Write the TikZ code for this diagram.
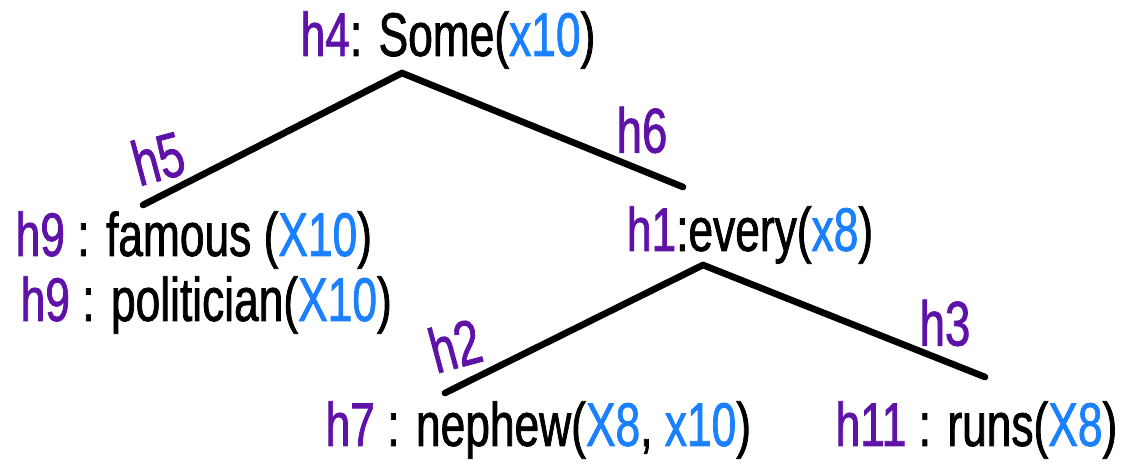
\documentclass[tikz,border=0pt]{standalone}
\usepackage{fontspec}
\setmainfont[FakeStretch=0.72,FakeBold=1.2]{Liberation Sans}
\definecolor{hpurple}{HTML}{5E12A8}
\definecolor{xblue}{HTML}{1A80FF}
\newcommand{\hv}[1]{\textcolor{hpurple}{#1}}
\newcommand{\xv}[1]{\textcolor{xblue}{#1}}
\tikzset{
  lbl/.style={inner sep=0pt, font=\fontsize{17.5}{20}\selectfont},
  hlbl/.style={inner sep=0pt, text=hpurple, font=\fontsize{18}{21}\selectfont},
  edge/.style={line width=1.9pt, line cap=round},
}
\begin{document}
\begin{tikzpicture}[x=0.01cm, y=-0.01cm]
\useasboundingbox (0,0) rectangle (1132,467);
% labels
\node[lbl] (top) at (448,40) {\hv{h4}: Some(\xv{x10})};
\node[lbl, anchor=west] (famous) at (15,240) {\hv{h9} : famous (\xv{X10})};
\node[lbl, anchor=west] (pol) at (20,305) {\hv{h9} : politician(\xv{X10})};
\node[lbl] (every) at (750,235) {\hv{h1}:every(\xv{x8})};
\node[lbl, anchor=west] (nephew) at (325,430) {\hv{h7} : nephew(\xv{X8}, \xv{x10})};
\node[lbl, anchor=west] (runs) at (835,430) {\hv{h11} : runs(\xv{X8})};
% tree points
\coordinate (a1) at (402,73);
\coordinate (l1) at (143,205);
\coordinate (r1) at (683,187);
\coordinate (a2) at (703,265);
\coordinate (l2) at (445,393);
\coordinate (r2) at (985,377);
\draw[edge] (a1) -- (l1);
\draw[edge] (a1) -- (r1);
\draw[edge] (a2) -- (l2);
\draw[edge] (a2) -- (r2);
% edge labels
\node[hlbl, rotate=15] (h5) at (158,158) {h5};
\node[hlbl] (h6) at (642,130) {h6};
\node[hlbl, rotate=15] (h2) at (455,345) {h2};
\node[hlbl] (h3) at (945,323) {h3};
\end{tikzpicture}
\end{document}
